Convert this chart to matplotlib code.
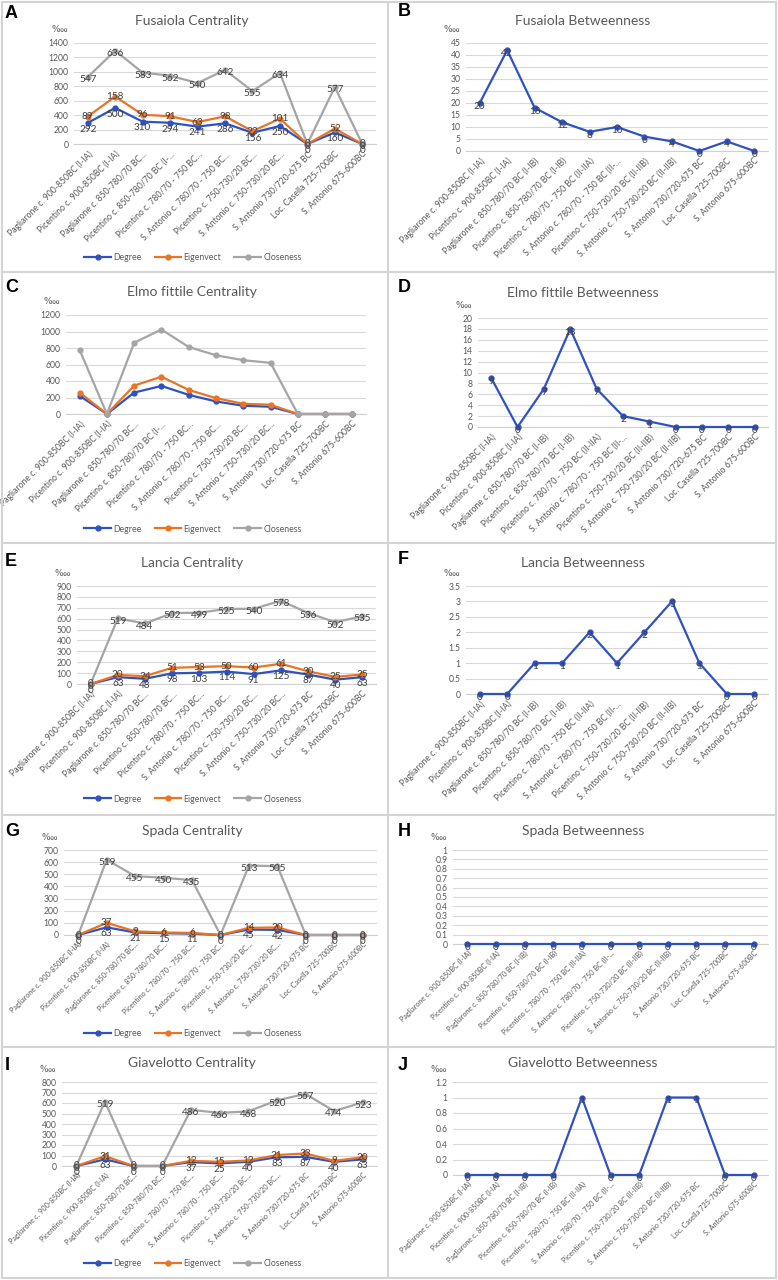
import numpy as np
import matplotlib
matplotlib.use("Agg")
import matplotlib.pyplot as plt
from matplotlib.lines import Line2D

plt.rcParams["font.family"] = ["Lato", "DejaVu Sans"]

W, H = 778, 1280

# category labels (Excel truncates the long ones on the centrality charts)
sites_short = [
    "Pagliarone c. 900-850BC (I-IA)",
    "Picentino c. 900-850BC (I-IA)",
    "Pagliarone c. 850-780/70 BC...",
    "Picentino c. 850-780/70 BC (I-...",
    "Picentino c. 780/70 - 750 BC...",
    "S. Antonio c. 780/70 - 750 BC...",
    "Picentino c. 750-730/20 BC...",
    "S. Antonio c. 750-730/20 BC...",
    "S. Antonio 730/720-675 BC",
    "Loc. Casella 725-700BC",
    "S. Antonio 675-600BC",
]
sites_shorter = sites_short[:3] + ["Picentino c. 850-780/70 BC..."] + sites_short[4:]
sites_full = [
    "Pagliarone c. 900-850BC (I-IA)",
    "Picentino c. 900-850BC (I-IA)",
    "Pagliarone c. 850-780/70 BC (I-IB)",
    "Picentino c. 850-780/70 BC (I-IB)",
    "Picentino c. 780/70 - 750 BC (II-IIA)",
    "S. Antonio c. 780/70 - 750 BC (II-...",
    "Picentino c. 750-730/20 BC (II-IIB)",
    "S. Antonio c. 750-730/20 BC (II-IIB)",
    "S. Antonio 730/720-675 BC",
    "Loc. Casella 725-700BC",
    "S. Antonio 675-600BC",
]
series_names = ["Degree", "Eigenvect", "Closeness"]

# values in per ten thousand; centrality charts are stacked lines
fusaiola_degree = [292, 500, 310, 294, 241, 286, 156, 250, 0, 160, 0]
fusaiola_eigen = [89, 158, 96, 91, 63, 98, 22, 101, 0, 52, 0]
fusaiola_close = [547, 636, 583, 562, 540, 642, 555, 634, 0, 577, 0]
fusaiola_betw = [20, 42, 18, 12, 8, 10, 6, 4, 0, 4, 0]

elmo_degree = [220, 0, 260, 340, 232, 152, 100, 88, 0, 0, 0]
elmo_eigen = [40, 0, 84, 112, 60, 40, 24, 24, 0, 0, 0]
elmo_close = [516, 0, 520, 572, 520, 520, 528, 508, 0, 0, 0]
elmo_betw = [9, 0, 7, 18, 7, 2, 1, 0, 0, 0, 0]

lancia_degree = [0, 63, 48, 98, 103, 114, 91, 125, 87, 40, 63]
lancia_eigen = [0, 20, 24, 51, 53, 50, 60, 61, 30, 25, 25]
lancia_close = [0, 519, 484, 502, 499, 525, 540, 578, 536, 502, 535]
lancia_betw = [0, 0, 1, 1, 2, 1, 2, 3, 1, 0, 0]

spada_degree = [0, 63, 21, 15, 11, 0, 45, 42, 0, 0, 0]
spada_eigen = [0, 37, 9, 6, 6, 0, 14, 20, 0, 0, 0]
spada_close = [0, 519, 455, 450, 435, 0, 513, 505, 0, 0, 0]
spada_betw = [0, 0, 0, 0, 0, 0, 0, 0, 0, 0, 0]

giav_degree = [0, 63, 0, 0, 37, 25, 40, 83, 87, 40, 63]
giav_eigen = [0, 31, 0, 0, 12, 15, 12, 21, 33, 9, 20]
giav_close = [0, 519, 0, 0, 486, 466, 468, 520, 567, 474, 523]
giav_betw = [0, 0, 0, 0, 1, 0, 0, 1, 1, 0, 0]

BLUE = "#2f52c0"
ORANGE = "#ea7424"
GREY = "#a5a5a5"
TXT = "#595959"
LBL = "#404040"

fig = plt.figure(figsize=(W / 100, H / 100), dpi=100)
x = np.arange(11)


def px_axes(x0, x1, ytop, ybot):
    return fig.add_axes([x0 / W, 1 - ybot / H, (x1 - x0) / W, (ybot - ytop) / H])


def style_axes(ax, ymax, ystep, labels, xsize):
    ax.set_xlim(-0.5, 10.5)
    ax.set_ylim(0, ymax)
    ticks = np.round(np.arange(0, ymax + ystep / 2, ystep), 2)
    ax.set_yticks(ticks)
    ax.set_yticklabels([f"{t:g}" for t in ticks])
    ax.grid(axis="y", color="#d9d9d9", lw=0.8)
    ax.set_axisbelow(True)
    for s in ["top", "right", "left"]:
        ax.spines[s].set_visible(False)
    ax.spines["bottom"].set_color("#d0d0d0")
    ax.tick_params(length=0, labelsize=6.2, colors=TXT, pad=4)
    ax.set_xticks(x)
    ax.set_xticklabels(labels, rotation=45, ha="right", rotation_mode="anchor", fontsize=xsize)


def put_labels(ax, ys, vals, dy):
    for xi, yi, v in zip(x, ys, vals):
        ax.annotate(f"{v:g}", (xi, yi), xytext=(0, dy), textcoords="offset points",
                    ha="center", va="center", fontsize=7.2, color=LBL, zorder=5)


def centrality(ax, deg, eig, clo, show_labels=True):
    stack = np.cumsum([deg, eig, clo], axis=0)
    for vals, ys, color, name, dy in zip([deg, eig, clo], stack, [BLUE, ORANGE, GREY],
                                         series_names, [-4.5, 0, -2]):
        ax.plot(x, ys, color=color, lw=1.6, marker="o", ms=3.5, clip_on=False, label=name, zorder=3)
        if show_labels:
            put_labels(ax, ys, vals, dy)


def betweenness(ax, vals):
    ax.plot(x, vals, color=BLUE, lw=1.6, marker="o", ms=3.5, clip_on=False, zorder=3)
    put_labels(ax, vals, vals, -2.5)


def decorate(letter, lx, ly, title, tx, ty, ux, uy):
    fig.text(lx / W, 1 - ly / H, letter, fontsize=13, fontweight="bold",
             family="Liberation Sans", ha="left", va="center")
    fig.text(tx / W, 1 - ty / H, title, fontsize=10, color=TXT, ha="center", va="center")
    fig.text(ux / W, 1 - uy / H, "\u2031", fontsize=6.5, color=TXT, ha="center", va="center",
             family=["DejaVu Sans"])


# left column: centrality panels
left = [
    ("A", "Fusaiola Centrality", (fusaiola_degree, fusaiola_eigen, fusaiola_close), True, sites_short,
     6.2, (74, 376, 43, 144), 1400, 200, 13, 21, 258),
    ("C", "Elmo fittile Centrality", (elmo_degree, elmo_eigen, elmo_close), False, sites_short,
     6.2, (66, 366, 315, 414), 1200, 200, 288, 292, 529),
    ("E", "Lancia Centrality", (lancia_degree, lancia_eigen, lancia_close), True, sites_shorter,
     6.2, (77, 376, 586, 684), 900, 100, 562, 563, 799),
    ("G", "Spada Centrality", (spada_degree, spada_eigen, spada_close), True, sites_shorter,
     5.2, (64, 377, 850, 935), 700, 100, 831, 831, 1034),
    ("I", "Giavelotto Centrality", (giav_degree, giav_eigen, giav_close), True, sites_shorter,
     5.2, (62, 377, 1082, 1166), 800, 100, 1065, 1063, 1264),
]
for letter, title, data, show, labels, xsize, box, ymax, ystep, ly, ty, legy in left:
    ax = px_axes(*box)
    style_axes(ax, ymax, ystep, labels, xsize)
    centrality(ax, *data, show_labels=show)
    ax.legend(loc="center", bbox_to_anchor=(193 / W, 1 - legy / H), bbox_transform=fig.transFigure,
              ncol=3, frameon=False, fontsize=6.3, handlelength=3, columnspacing=1.5,
              handletextpad=0.3, labelcolor=TXT, numpoints=1)
    decorate(letter, 5, ly, title, 192, ty, box[0] - 15, box[2] - 13)

# right column: betweenness panels
right = [
    ("B", "Fusaiola Betweenness", fusaiola_betw, 6.2, (466, 768, 43, 151), 45, 5, 12, 21),
    ("D", "Elmo fittile Betweenness", elmo_betw, 6.2, (478, 768, 318, 427), 20, 2, 288, 293),
    ("F", "Lancia Betweenness", lancia_betw, 6.2, (466, 768, 586, 694), 3.5, 0.5, 560, 563),
    ("H", "Spada Betweenness", spada_betw, 5.2, (453, 768, 850, 944), 1, 0.1, 831, 831),
    ("J", "Giavelotto Betweenness", giav_betw, 5.2, (453, 768, 1082, 1175), 1.2, 0.2, 1065, 1063),
]
for letter, title, vals, xsize, box, ymax, ystep, ly, ty in right:
    ax = px_axes(*box)
    style_axes(ax, ymax, ystep, sites_full, xsize)
    betweenness(ax, vals)
    decorate(letter, 398, ly, title, 583, ty, box[0] - 15, box[2] - 13)

# panel frames
frame_kw = dict(color="#d4d4d4", lw=1.5, transform=fig.transFigure)
for yy in [2, 272, 543, 815, 1047, 1278]:
    fig.add_artist(Line2D([2 / W, 776 / W], [1 - yy / H] * 2, **frame_kw))
for xx in [2, 388, 776]:
    fig.add_artist(Line2D([xx / W] * 2, [1 - 2 / H, 1 - 1278 / H], **frame_kw))

fig.savefig("out.png", dpi=100, facecolor="white")
